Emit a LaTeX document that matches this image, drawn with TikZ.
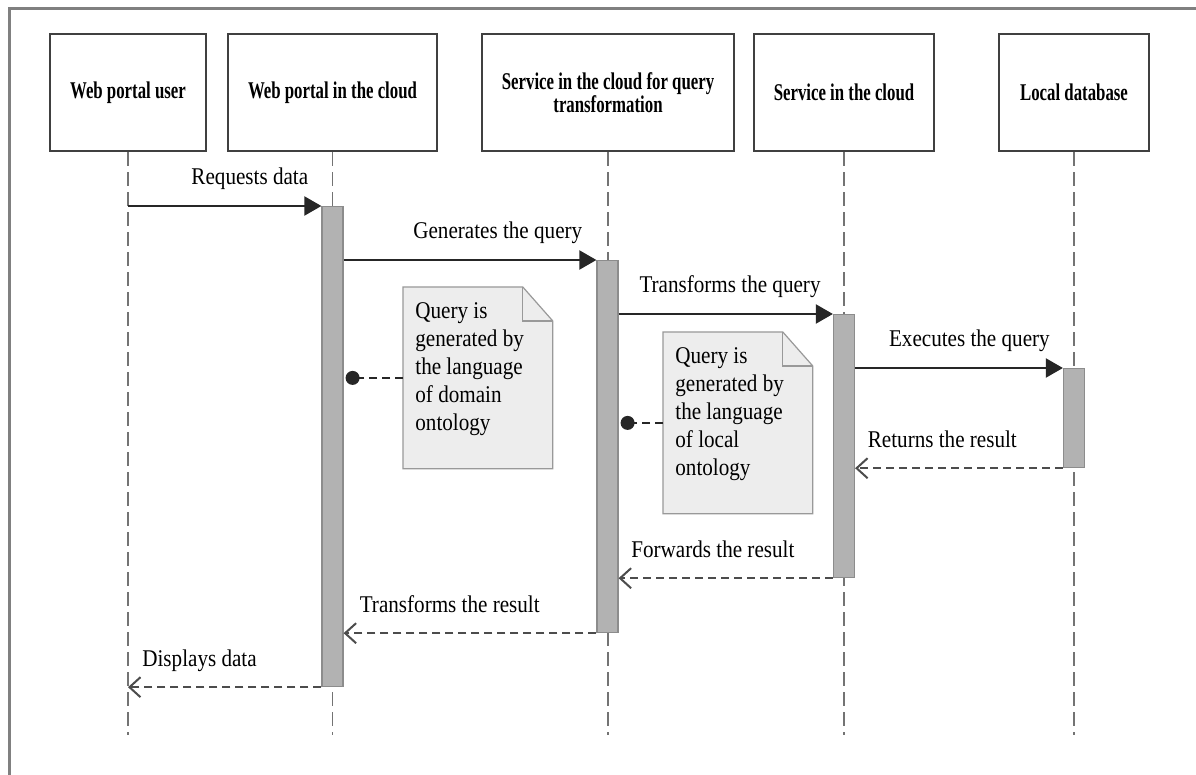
\documentclass[tikz,border=0pt]{standalone}
\usepackage{fontspec}
\setmainfont{Liberation Serif}[FakeStretch=0.88]
\newfontfamily\headfont{Liberation Serif}[FakeStretch=0.7]
\newcommand\msgfont{\fontsize{12}{14}\selectfont}
\usetikzlibrary{arrows.meta,positioning,calc}
\pgfdeclarelayer{background}
\pgfsetlayers{background,main}

\begin{document}
\begin{tikzpicture}[x=0.5pt,y=-0.5pt,
	head/.style={draw=black!75,line width=1.2pt,fill=white,minimum height=58.5pt,align=center,font=\headfont\fontsize{12}{11.5}\selectfont\bfseries},
	life/.style={draw=black!55,line width=0.6pt,dash pattern=on 7pt off 3pt},
	bar/.style={draw=black!45,fill=black!30,line width=0.6pt,minimum width=10.5pt,inner sep=0pt,anchor=north},
	note/.style={anchor=north west,align=flush left,text width=62.5pt,inner xsep=6pt,inner ysep=7pt,text height=8.5pt,text depth=68pt,font=\msgfont},
	notebox/.style={draw=black!40,fill=black!7,line width=0.6pt},
	msg/.style={above=4pt,inner sep=3pt,text depth=3pt,font=\msgfont},
	call/.style={draw=black!85,line width=1pt,-{Triangle[length=8.5pt,width=9.5pt]}},
	reply/.style={draw=black!70,line width=1pt,dash pattern=on 4pt off 2.5pt,-{Straight Barb[length=5.5pt,width=10pt]}},
	tonote/.style={draw=black!85,line width=0.9pt,dash pattern=on 4pt off 2.5pt,-{Circle[length=7pt]}}]
	\path[use as bounding box] (0,0) rectangle (1196,775);
	\draw[black!50,line width=1.5pt] (1196,9) -- (9,9) -- (9,775);
	\node[head,minimum width=78pt]    (h1) at (128,92.5)  {Web portal user};
	\node[head,minimum width=104.5pt] (h2) at (332.5,92.5) {Web portal in the cloud};
	\node[head,minimum width=126pt]   (h3) at (608,92.5)  {Service in the cloud for query\\transformation};
	\node[head,minimum width=90pt]    (h4) at (844,92.5)  {Service in the cloud};
	\node[head,minimum width=75pt]    (h5) at (1074,92.5) {Local database};
	\coordinate (bottom) at (0,735);
	\foreach \h in {h1,h2,h3,h4,h5}
		\draw[life] (\h.south) -- (\h.south |- bottom);
	\node[bar,minimum height=240pt]  (b2) at (332.5,206) {};
	\node[bar,minimum height=186pt]  (b3) at (607.5,260) {};
	\node[bar,minimum height=131.5pt] (b4) at (844,314)  {};
	\node[bar,minimum height=49.5pt] (b5) at (1074,368) {};
	\node[note] (n1) at (403,287) {Query is\\generated by\\the language\\of domain\\ontology};
	\node[note] (n2) at (663,332) {Query is\\generated by\\the language\\of local\\ontology};
	\begin{pgfonlayer}{background}
		\fill[white] (0,0) rectangle (1196,775);
		\foreach \n in {n1,n2} {
			\filldraw[notebox] (\n.north west) -- ([xshift=-15pt]\n.north east) -- ([yshift=-17pt]\n.north east)
				-- (\n.south east) -- (\n.south west) -- cycle;
			\draw[notebox,fill=none] ([xshift=-15pt]\n.north east) |- ([yshift=-17pt]\n.north east);
		}
	\end{pgfonlayer}
	\draw[tonote] (n1.west) -- ([xshift=1pt]b2.east |- n1.west);
	\draw[tonote] (n2.west) -- ([xshift=1pt]b3.east |- n2.west);
	\path
		(h1.south |- b2.north) edge[call] node[msg,pos=.63] {Requests data} (b2.north west)
		(b2.east |- b3.north)  edge[call] node[msg,pos=.61] {Generates the query} (b3.north west)
		(b3.east |- b4.north)  edge[call] node[msg,pos=.52] {Transforms the query} (b4.north west)
		(b4.east |- b5.north)  edge[call] node[msg,pos=.55] {Executes the query} (b5.north west)
		(b5.south west) edge[reply] node[msg,pos=.58] {Returns the result} (b4.east |- b5.south)
		(b4.south west) edge[reply] node[msg,pos=.56] {Forwards the result} (b3.east |- b4.south)
		(b3.south west) edge[reply] node[msg,pos=.58] {Transforms the result} (b2.east |- b3.south)
		(b2.south west) edge[reply] node[msg,pos=.63] {Displays data} (h1.south |- b2.south)
	; %-path-%
\end{tikzpicture}
\end{document}
